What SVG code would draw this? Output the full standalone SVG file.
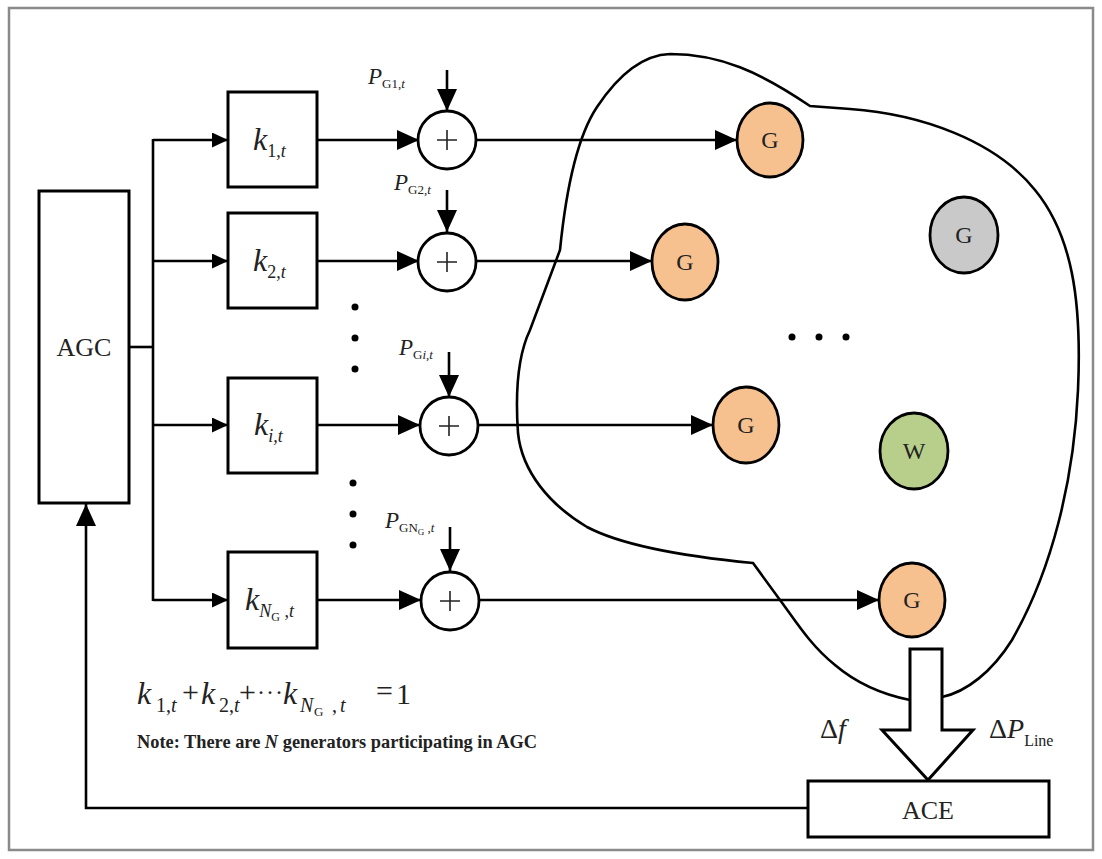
<svg xmlns="http://www.w3.org/2000/svg" width="1102" height="859" viewBox="0 0 1102 859">
  <defs>
    <marker id="arrowBig" markerUnits="userSpaceOnUse" markerWidth="24" markerHeight="22" refX="22" refY="10" orient="auto">
      <path d="M0,0 L22,10 L0,20 Z" fill="#000"/>
    </marker>
    <marker id="arrowSmall" markerUnits="userSpaceOnUse" markerWidth="18" markerHeight="16" refX="16" refY="7.5" orient="auto">
      <path d="M0,0 L16,7.5 L0,15 Z" fill="#000"/>
    </marker>
    <style>
      .frame { fill: #fff; stroke: #8a8a8a; stroke-width: 2.5; }
      .box { fill: #fff; stroke: #000; stroke-width: 3; }
      .sum { fill: #fff; stroke: #000; stroke-width: 2.8; }
      .plus { stroke: #222; stroke-width: 1.6; }
      .wire { fill: none; stroke: #000; stroke-width: 2.6; }
      .blob { fill: none; stroke: #000; stroke-width: 2.6; }
      .gen { fill: #f6c18f; stroke: #000; stroke-width: 2.8; }
      .ext { fill: #c9c9c9; stroke: #000; stroke-width: 2.8; }
      .wind { fill: #b8cf8c; stroke: #000; stroke-width: 2.8; }
      .serif { font-family: "Liberation Serif", "Times New Roman", serif; fill: #222; }
      .lbl { font-size: 26px; text-anchor: middle; }
      .nl { font-size: 24px; text-anchor: middle; }
      .it { font-style: italic; }
      .dot { fill: #000; }
    </style>
  </defs>

  <rect class="frame" x="9" y="8" width="1084" height="842"/>

  <!-- power system area boundary -->
  <path id="grid-area" class="blob" d="M 926,700 L 910,700 C 880,694 855,682 835,665 C 810,645 795,620 780,600 L 753,563 C 690,557 625,547 587,527 C 550,505 522,472 518,433 C 515,390 518,355 530,330 L 560,250 C 565,200 575,140 597,107 C 615,80 640,55 670,54 C 720,54 760,72 810,106 L 850,109 C 920,114 995,140 1035,190 C 1072,235 1082,300 1078,390 C 1074,480 1052,570 1012,640 C 992,672 966,692 942,697 Z"/>

  <!-- connectors -->
  <g id="connectors">
    <!-- AGC output bus -->
    <line class="wire" x1="129" y1="347" x2="153" y2="347"/>
    <line class="wire" x1="153" y1="139" x2="153" y2="601"/>
    <line class="wire" x1="153" y1="140" x2="228" y2="140" marker-end="url(#arrowSmall)"/>
    <line class="wire" x1="153" y1="261" x2="228" y2="261" marker-end="url(#arrowSmall)"/>
    <line class="wire" x1="153" y1="425" x2="228" y2="425" marker-end="url(#arrowSmall)"/>
    <line class="wire" x1="153" y1="600" x2="228" y2="600" marker-end="url(#arrowSmall)"/>

    <!-- participation factor to summing junction -->
    <line class="wire" x1="317" y1="140" x2="419" y2="140" marker-end="url(#arrowBig)"/>
    <line class="wire" x1="317" y1="261" x2="419" y2="261" marker-end="url(#arrowBig)"/>
    <line class="wire" x1="317" y1="425" x2="420" y2="425" marker-end="url(#arrowBig)"/>
    <line class="wire" x1="317" y1="600" x2="421" y2="600" marker-end="url(#arrowBig)"/>

    <!-- scheduled generation inputs -->
    <line class="wire" x1="447" y1="70" x2="447" y2="111" marker-end="url(#arrowBig)"/>
    <line class="wire" x1="447" y1="190" x2="447" y2="232" marker-end="url(#arrowBig)"/>
    <line class="wire" x1="449" y1="352" x2="449" y2="397" marker-end="url(#arrowBig)"/>
    <line class="wire" x1="450" y1="527" x2="450" y2="571" marker-end="url(#arrowBig)"/>

    <!-- junction to generator -->
    <line class="wire" x1="476" y1="140" x2="737" y2="140" marker-end="url(#arrowBig)"/>
    <line class="wire" x1="476" y1="261" x2="652" y2="261" marker-end="url(#arrowBig)"/>
    <line class="wire" x1="478" y1="425" x2="713" y2="425" marker-end="url(#arrowBig)"/>
    <line class="wire" x1="479" y1="600" x2="879" y2="600" marker-end="url(#arrowBig)"/>

    <!-- ACE feedback to AGC -->
    <polyline class="wire" points="808,808 86,808 86,504" marker-end="url(#arrowBig)"/>

    <!-- measured deviations into ACE -->
    <polygon class="box" points="910,649 942,649 942,730 973,730 928,780 882,730 910,730"/>
  </g>

  <!-- controller -->
  <g id="agc">
    <rect class="box" x="39" y="191" width="90" height="312"/>
    <text class="serif lbl" x="84" y="356">AGC</text>
  </g>

  <!-- participation factors -->
  <g id="k1">
    <rect class="box" x="228" y="92" width="89" height="95"/>
    <text class="serif" x="253" y="150" font-size="32"><tspan class="it">k</tspan><tspan font-size="18" dy="7">1,</tspan><tspan class="it" font-size="18">t</tspan></text>
  </g>
  <g id="k2">
    <rect class="box" x="228" y="213" width="89" height="95"/>
    <text class="serif" x="253" y="271" font-size="32"><tspan class="it">k</tspan><tspan font-size="18" dy="7">2,</tspan><tspan class="it" font-size="18">t</tspan></text>
  </g>
  <g id="ki">
    <rect class="box" x="228" y="378" width="89" height="95"/>
    <text class="serif" x="254" y="435" font-size="32"><tspan class="it">k</tspan><tspan class="it" font-size="18" dy="7">i,t</tspan></text>
  </g>
  <g id="kNG">
    <rect class="box" x="228" y="552" width="89" height="96"/>
    <text class="serif" x="245" y="610" font-size="32"><tspan class="it">k</tspan><tspan class="it" font-size="18" dy="7">N</tspan><tspan font-size="12" dy="4">G</tspan><tspan font-size="18" dy="-4"> ,</tspan><tspan class="it" font-size="18">t</tspan></text>
  </g>

  <!-- summing junctions -->
  <g id="sum1">
    <circle class="sum" cx="447" cy="140" r="29"/>
    <path class="plus" d="M437,140 H457 M447,130 V150"/>
    <text class="serif" x="368" y="84" font-size="23"><tspan class="it">P</tspan><tspan font-size="13" dy="4">G1,</tspan><tspan class="it" font-size="13">t</tspan></text>
  </g>
  <g id="sum2">
    <circle class="sum" cx="447" cy="262" r="29"/>
    <path class="plus" d="M437,262 H457 M447,252 V272"/>
    <text class="serif" x="394" y="190" font-size="23"><tspan class="it">P</tspan><tspan font-size="13" dy="4">G2,</tspan><tspan class="it" font-size="13">t</tspan></text>
  </g>
  <g id="sumi">
    <circle class="sum" cx="449" cy="426" r="29"/>
    <path class="plus" d="M439,426 H459 M449,416 V436"/>
    <text class="serif" x="399" y="355" font-size="23"><tspan class="it">P</tspan><tspan font-size="13" dy="4">G</tspan><tspan class="it" font-size="13">i,t</tspan></text>
  </g>
  <g id="sumNG">
    <circle class="sum" cx="450" cy="601" r="29"/>
    <path class="plus" d="M440,601 H460 M450,591 V611"/>
    <text class="serif" x="385" y="528" font-size="23"><tspan class="it">P</tspan><tspan font-size="13" dy="4">GN</tspan><tspan font-size="9" dy="3">G</tspan><tspan font-size="13" dy="-3"> ,</tspan><tspan class="it" font-size="13">t</tspan></text>
  </g>

  <!-- omitted rows -->
  <g id="vdots">
    <circle class="dot" cx="355" cy="307" r="3.5"/>
    <circle class="dot" cx="355" cy="338" r="3.5"/>
    <circle class="dot" cx="355" cy="369" r="3.5"/>
    <circle class="dot" cx="353" cy="483" r="3.5"/>
    <circle class="dot" cx="353" cy="514" r="3.5"/>
    <circle class="dot" cx="353" cy="545" r="3.5"/>
  </g>

  <!-- units in the area -->
  <g id="gen1">
    <ellipse class="gen" cx="770" cy="140" rx="33" ry="37"/>
    <text class="serif nl" x="770" y="148">G</text>
  </g>
  <g id="gen2">
    <ellipse class="gen" cx="685" cy="262" rx="33" ry="38"/>
    <text class="serif nl" x="685" y="270">G</text>
  </g>
  <g id="gen-other">
    <ellipse class="ext" cx="964" cy="235" rx="34" ry="38"/>
    <text class="serif nl" x="964" y="243">G</text>
  </g>
  <g id="hdots">
    <circle class="dot" cx="792" cy="337" r="3.5"/>
    <circle class="dot" cx="819" cy="337" r="3.5"/>
    <circle class="dot" cx="846" cy="337" r="3.5"/>
  </g>
  <g id="geni">
    <ellipse class="gen" cx="746" cy="425" rx="33" ry="38"/>
    <text class="serif nl" x="746" y="433">G</text>
  </g>
  <g id="wind">
    <ellipse class="wind" cx="914" cy="451" rx="34" ry="38"/>
    <text class="serif nl" x="914" y="459">W</text>
  </g>
  <g id="genNG">
    <ellipse class="gen" cx="912" cy="600" rx="33" ry="37"/>
    <text class="serif nl" x="912" y="608">G</text>
  </g>

  <!-- area control error -->
  <g id="ace">
    <rect class="box" x="808" y="781" width="241" height="56"/>
    <text class="serif lbl" x="928" y="819" font-size="24">ACE</text>
    <text class="serif" x="820" y="738" font-size="28">Δ<tspan class="it">f</tspan></text>
    <text class="serif" x="989" y="738" font-size="28">Δ<tspan class="it">P</tspan><tspan font-size="16" dy="8">Line</tspan></text>
  </g>

  <!-- participation constraint and note -->
  <g id="constraint">
    <text class="serif" font-size="32"><tspan class="it" x="137" y="704">k</tspan><tspan font-size="20" x="156" y="712">1,</tspan><tspan class="it" font-size="20">t</tspan><tspan font-size="30" x="182" y="702">+</tspan><tspan class="it" x="201" y="704">k</tspan><tspan font-size="20" x="219" y="712">2,</tspan><tspan class="it" font-size="20">t</tspan><tspan font-size="30" x="239" y="702">+</tspan><tspan font-size="24" letter-spacing="1" x="257" y="700">···</tspan><tspan class="it" x="283" y="704">k</tspan><tspan class="it" font-size="20" x="300" y="712">N</tspan><tspan font-size="13" x="314" y="716">G</tspan><tspan font-size="20" x="332" y="712">,</tspan><tspan class="it" font-size="20" x="340" y="712">t</tspan><tspan font-size="30" x="376" y="701">=</tspan><tspan font-size="30" x="396" y="704">1</tspan></text>
    <text class="serif" x="137" y="748" font-size="18" font-weight="bold" textLength="400" lengthAdjust="spacingAndGlyphs">Note: There are <tspan class="it">N</tspan> generators participating in AGC</text>
  </g>
</svg>
